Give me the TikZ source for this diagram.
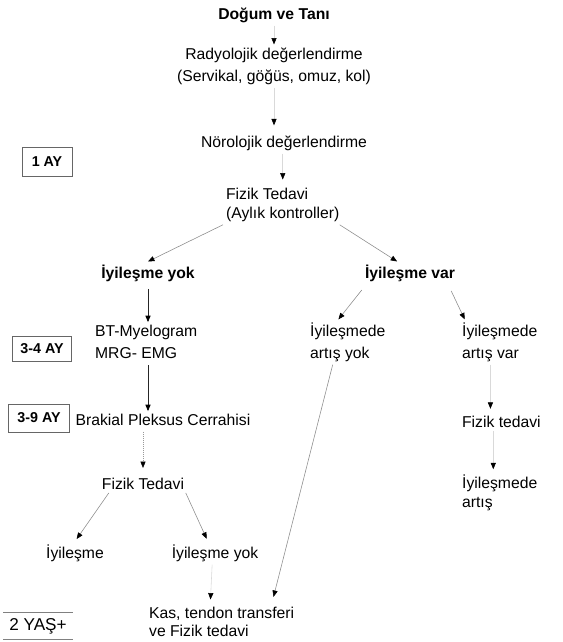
\documentclass[tikz,border=0pt]{standalone}
\usepackage{fontspec}
\setmainfont{Liberation Sans}
\usetikzlibrary{arrows.meta}
\tikzset{
  lbl/.style={font=\fontsize{11}{15.4}\selectfont,inner sep=2pt},
  tlbl/.style={lbl,font=\fontsize{11}{13}\selectfont},
  blbl/.style={lbl,font=\fontsize{11}{15.4}\selectfont\bfseries},
  agebox/.style={draw=black!60,line width=0.6pt,font=\fontsize{10}{12}\selectfont\bfseries,inner sep=2pt},
  ar/.style={-{Triangle[length=4.5pt,width=3.6pt,color=black]},draw=black!85,line width=0.5pt},
  gar/.style={ar,draw=black!45,line width=0.4pt},
  far/.style={ar,draw=black!15,line width=0.4pt},
}
\begin{document}
\begin{tikzpicture}[x=0.7pt,y=-0.7pt]
\useasboundingbox (0,0) rectangle (562,642);
% main column
\node[blbl] (dogum) at (274,15) {Doğum ve Tanı};
\node[lbl,align=center] (radyo) at (274,66) {Radyolojik değerlendirme\\(Servikal, göğüs, omuz, kol)};
\node[lbl] (noro) at (284,143) {Nörolojik değerlendirme};
\node[tlbl,align=left,anchor=west] (fizik) at (223,205) {Fizik Tedavi\\(Aylık kontroller)};
% branches
\node[blbl] (yok) at (148,273) {İyileşme yok};
\node[blbl] (var) at (410,273) {İyileşme var};
\node[lbl,align=left,anchor=west] (bt) at (92,342) {BT-Myelogram\\MRG- EMG};
\node[lbl] (brak) at (163,420) {Brakial Pleksus Cerrahisi};
\node[lbl] (fizik2) at (143,484) {Fizik Tedavi};
\node[lbl] (iyi) at (75,553) {İyileşme};
\node[lbl] (iyiyok) at (215,553) {İyileşme yok};
\node[tlbl,align=left,anchor=west] (kas) at (146,622) {Kas, tendon transferi\\ve Fizik tedavi};
\node[lbl,align=left,anchor=west] (artyok) at (307,342) {İyileşmede\\artış yok};
\node[lbl,align=left,anchor=west] (artvar) at (459,342) {İyileşmede\\artış var};
\node[lbl,anchor=west] (fizik3) at (459,422) {Fizik tedavi};
\node[tlbl,align=left,anchor=west] (artis) at (459,493) {İyileşmede\\artış};
% time marks
\node[agebox,minimum width=35pt,minimum height=20pt] (ay1) at (47,162) {1 AY};
\node[agebox,minimum width=41pt,minimum height=17.5pt] (ay34) at (42,349) {3-4 AY};
\node[agebox,minimum width=43pt,minimum height=19.5pt] (ay39) at (39,418) {3-9 AY};
\node[lbl,font=\fontsize{12}{14}\selectfont,minimum width=48pt,minimum height=19pt] (yas) at (38,626) {2 YAŞ+};
\draw[black!50,line width=0.6pt] (yas.north west) -- (yas.north east);
\draw[black!50,line width=0.6pt] (yas.south west) -- (yas.south east);
% connectors
\draw[far] (dogum.south) -- (radyo.north);
\draw[far,shorten >=5pt] (radyo.south) -- (radyo.south |- noro.north);
\draw[far,shorten >=4pt] (noro.south -| fizik.north) -- (fizik.north);
\draw[gar] (fizik.south west) -- (yok.north);
\draw[gar] ([xshift=-2pt]fizik.south east) -- ([xshift=-9pt]var.north);
\draw[ar,shorten <=3pt] (yok.south) -- (yok.south |- bt.north);
\draw[ar,shorten <=2.5pt] (yok.south |- bt.south) -- (yok.south |- brak.north);
\draw[far,densely dotted,draw=black!40,shorten <=2pt,shorten >=5pt] (brak.south -| fizik2.north) -- (fizik2.north);
\draw[gar,shorten >=2pt] ([xshift=7pt]fizik2.south west) -- (iyi.north);
\draw[gar,shorten >=2pt] ([xshift=-1pt]fizik2.south east) -- ([xshift=-5pt]iyiyok.north);
\draw[far,shorten >=3pt] ([xshift=-2pt]iyiyok.south) -- ([xshift=45pt]kas.north west);
\draw[gar,shorten <=5pt] ([xshift=3pt]var.south west) -- ([xshift=22pt]artyok.north west);
\draw[gar,shorten <=5pt] ([xshift=-7pt]var.south east) -- ([xshift=4pt]artvar.north west);
\draw[far,shorten >=3pt] ([xshift=22pt]artvar.south west) -- ([xshift=22pt]fizik3.north west);
\draw[far,shorten >=2pt] ([xshift=24pt]fizik3.south west) -- ([xshift=24pt]artis.north west);
\draw[gar,shorten >=5pt] ([xshift=18pt]artyok.south west) -- ([xshift=88pt]kas.north west);
\end{tikzpicture}
\end{document}
